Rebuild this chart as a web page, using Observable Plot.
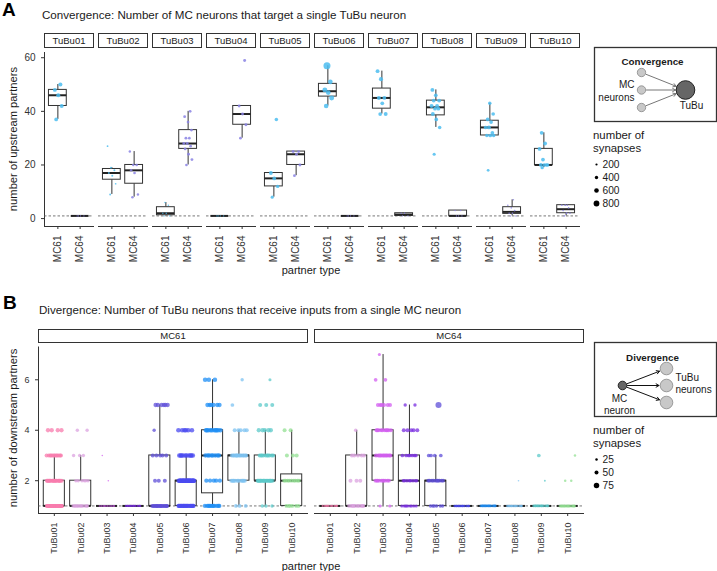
<!DOCTYPE html>
<html><head><meta charset="utf-8">
<script src="https://cdn.jsdelivr.net/npm/d3@7"></script>
<script src="https://cdn.jsdelivr.net/npm/@observablehq/plot@0.6"></script>
<style>
body{margin:0;background:#fff;font-family:"Liberation Sans",Arial,sans-serif;}
#fig{position:relative;width:717px;height:571px;overflow:hidden;background:#fff;}
.abs{position:absolute;white-space:nowrap;color:#1a1a1a;line-height:1;}
.rot{transform:translate(-50%,-50%) rotate(-90deg);}
.ctr{transform:translate(-50%,-50%);}
svg{position:absolute;overflow:visible;}
g[aria-label="x-axis line"], g[aria-label="y-axis line"]{stroke-width:1.3px;}
</style></head><body><div id="fig"></div>
<script>
// ---------------- data ----------------
const tubuTypes = ["TuBu01","TuBu02","TuBu03","TuBu04","TuBu05","TuBu06","TuBu07","TuBu08","TuBu09","TuBu10"];
const mcTypes = ["MC61","MC64"];

// Panel A: number of upstream MC partners of each TuBu neuron
const convMC61 = [[37,42,46,48,50],[9,13,16,17,18,19,27],[1,1,2,2,5,6],[1,1,1,1],[8,12,15,17,37],
  [42,45,47,48,51,57],[39,39,43,45,45,52,55],[24,34,37,39,41,41,42,42,44,44,46,48],
  [18,31,31,31,32,34,34,36,37,39,43],[19,20,20,20,20,22,26,28,32]];
const convMC64 = [[1,1,1,1],[8,9,17,18,20,20,25],[20,22,24,26,27,28,28,30,30,33,36,38,40],[30,35,39,42,59],[16,20,24,25,25],
  [1,1,1,1],[1,1,2,2],[1,1,1,3,3],[1,1,2,2,3,4,5,7],[1,2,2,3,4,5,5,5]];
// number of synapses for each of those points
const convSynMC61 = [[450,500,500,480,520],[150,120,160,140,160,150,130],[60,60,80,70,90,70],[30,30,30,30],[350,400,450,480,420],
  [600,650,620,650,600,1000],[450,480,460,500,470,520,480],[350,420,450,470,480,460,500,480,470,490,460,480],
  [300,430,450,420,440,460,430,450,470,440,420],[400,420,430,450,440,460,470,480,450]];
const convSynMC64 = [[40,40,40,40],[250,240,280,260,270,250,240],[280,300,320,300,280,310,300,290,320,300,280,300,290],[300,320,310,300,330],[300,320,310,330,300],
  [30,30,30,30],[60,60,60,60],[50,50,50,60,60],[80,80,100,100,120,110,100,90],[100,110,120,110,100,120,110,100]];
const convColors = ["#4cbdf0","#8a82e4"];
const convSizeBreaks = [200,400,600,800];

// Panel B: number of MC neurons (per TuBu type) having 1..7 downstream partners
const divCountsMC61 = [[36,18,12,4,0,0,0],[12,6,3,2,0,0,0],[15,1,1,0,0,0,0],[12,0,0,0,0,0,0],[16,3,5,1,6,0,0],
  [20,30,10,6,0,0,0],[11,5,8,10,6,3,0],[3,10,14,5,1,1,0],[3,17,10,5,3,1,0],[6,9,3,2,0,0,0]];
const divCountsMC64 = [[10,0,0,0,0,0,0],[10,3,5,1,0,0,0],[2,10,12,10,6,2,1],[9,8,7,5,2,0,0],[6,10,4,0,1,0,0],
  [12,0,0,0,0,0,0],[12,0,0,0,0,0,0],[12,1,0,0,0,0,0],[12,1,1,0,0,0,0],[12,2,1,0,0,0,0]];
// typical number of synapses at each partner count 1..7
const divSynMC61 = [[45,50,50,55,50,50,50],[40,40,40,40,40,40,40],[10,10,10,10,10,10,10],[20,20,20,20,20,20,20],[50,50,50,40,55,55,55],
  [55,60,60,60,60,60,60],[55,55,55,60,55,60,60],[45,50,50,50,45,40,40],[40,50,50,55,50,35,35],[45,45,50,50,50,50,50]];
const divSynMC64 = [[20,20,20,20,20,20,20],[45,50,50,40,40,40,40],[35,45,50,50,50,45,35],[35,40,45,50,40,40,40],[40,45,45,45,85,85,85],
  [25,25,25,25,25,25,25],[30,30,30,30,30,30,30],[25,10,10,10,10,10,10],[30,15,45,45,45,45,45],[35,25,25,25,25,25,25]];
const divColors = ["#f87cae","#dca3e0","#d35ff0","#7a2ee0","#5f4fd8","#4b4bf0","#1f8ff5","#7ec3f2","#5cc9c9","#93e093"];
const divSizeBreaks = [25,50,75];

// ---------------- helpers ----------------
const FONT = '"Liberation Sans", Arial, sans-serif';
const INK = "#333";
function jitter(i, w){ return (((i + 0.5) * 0.6180339887) % 1 - 0.5) * w; }
function stats(vals){
  const s = vals.slice().sort(d3.ascending);
  const q1 = d3.quantile(s,0.25), med = d3.quantile(s,0.5), q3 = d3.quantile(s,0.75), iqr = q3 - q1;
  return {q1, med, q3, lo: d3.min(s.filter(v => v >= q1 - 1.5*iqr)), hi: d3.max(s.filter(v => v <= q3 + 1.5*iqr))};
}
const fig = document.getElementById("fig");
function place(node, left, top){ node.style.left = left + "px"; node.style.top = top + "px"; fig.appendChild(node); }
function label(text, left, top, css, cls){
  const d = document.createElement("div"); d.className = "abs " + (cls||""); d.textContent = text;
  d.style.cssText += css || ""; d.style.left = left + "px"; d.style.top = top + "px"; fig.appendChild(d); return d;
}

// ---------------- Panel A ----------------
const convPts = [], convBox = [];
tubuTypes.forEach((t, ti) => {
  [convMC61, convMC64].forEach((arr, mi) => {
    const vals = arr[ti], syn = (mi ? convSynMC64 : convSynMC61)[ti];
    vals.forEach((v, i) => convPts.push({fx: t, mc: mcTypes[mi], x: mi + 1 + jitter(i, 0.4), v, syn: syn[i]}));
    convBox.push({fx: t, x: mi + 1, ...stats(vals)});
  });
});
const xDomA = [0.4, 2.6];
const halfBox = 0.4;
const stripA = Plot.plot({
  width: 585, height: 16, marginLeft: 42, marginRight: 4, marginTop: 1, marginBottom: 1,
  style: {fontFamily: FONT, background: "transparent", color: "#1a1a1a"},
  fx: {domain: tubuTypes, paddingInner: 0.1, paddingOuter: 0, axis: null},
  marks: [
    Plot.frame({fill: "white", stroke: INK, strokeWidth: 1}),
    Plot.text(tubuTypes, {fx: d => d, text: d => d, frameAnchor: "middle", fontSize: 9.5})
  ]
});
place(stripA, 0, 32);

const plotA = Plot.plot({
  width: 585, height: 219, marginLeft: 42, marginRight: 4, marginTop: 5, marginBottom: 40,
  style: {fontFamily: FONT, fontSize: "10px", background: "transparent", color: INK},
  fx: {domain: tubuTypes, paddingInner: 0.1, paddingOuter: 0, axis: null},
  x: {domain: xDomA, ticks: [1,2], tickFormat: i => mcTypes[i-1], tickRotate: -90, tickSize: 3, label: null, line: true},
  y: {domain: [-2.95, 61.95], ticks: [0,20,40,60], tickFormat: "d", tickSize: 3, label: null, line: true},
  r: {type: "linear", domain: [0, 1000], range: [0.5, 3.5]},
  color: {domain: mcTypes, range: convColors},
  marks: [
    Plot.ruleY([1], {stroke: "#555", strokeDasharray: "2.5,2", strokeWidth: 0.8}),
    Plot.ruleX(convBox, {fx: "fx", x: "x", y1: "lo", y2: "q1", stroke: INK, strokeWidth: 1}),
    Plot.ruleX(convBox, {fx: "fx", x: "x", y1: "q3", y2: "hi", stroke: INK, strokeWidth: 1}),
    Plot.rect(convBox, {fx: "fx", x1: d => d.x - halfBox, x2: d => d.x + halfBox, y1: "q1", y2: "q3", fill: "white", stroke: INK, strokeWidth: 1}),
    Plot.ruleY(convBox, {fx: "fx", x1: d => d.x - halfBox, x2: d => d.x + halfBox, y: "med", stroke: "#222", strokeWidth: 2}),
    Plot.dot(convPts, {fx: "fx", x: "x", y: "v", r: "syn", fill: "mc", fillOpacity: 0.85})
  ]
});
place(plotA, 0, 47);

label("A", 2, 0, "font-weight:bold;font-size:19px;color:#000;");
label("Convergence: Number of MC neurons that target a single TuBu neuron", 42, 9, "font-size:11.6px;");
label("number of upstream partners", 14, 139, "font-size:11.2px;", "rot");
label("partner type", 311, 270, "font-size:11px;", "ctr");

// ---------------- Panel B ----------------
const divPts = [], divBox = [];
mcTypes.forEach((m, mi) => {
  const counts = mi ? divCountsMC64 : divCountsMC61, syns = mi ? divSynMC64 : divSynMC61;
  tubuTypes.forEach((t, ti) => {
    const vals = []; let k = 0;
    counts[ti].forEach((c, vi) => {
      for (let j = 0; j < c; j++) {
        divPts.push({fx: m, tubu: t, x: ti + 1 + jitter(k++, 0.6), v: vi + 1, syn: syns[ti][vi]});
        vals.push(vi + 1);
      }
    });
    divBox.push({fx: m, x: ti + 1, ...stats(vals)});
  });
});
const xDomB = [0.4, 10.6];
const stripB = Plot.plot({
  width: 588, height: 16, marginLeft: 38, marginRight: 4, marginTop: 1, marginBottom: 2,
  style: {fontFamily: FONT, background: "transparent", color: "#1a1a1a"},
  fx: {domain: mcTypes, paddingInner: 0.0253, paddingOuter: 0, axis: null},
  marks: [
    Plot.frame({fill: "white", stroke: INK, strokeWidth: 1}),
    Plot.text(mcTypes, {fx: d => d, text: d => d, frameAnchor: "middle", fontSize: 9.5})
  ]
});
place(stripB, 0, 328);

const plotB = Plot.plot({
  width: 588, height: 221, marginLeft: 38, marginRight: 4, marginTop: 4.5, marginBottom: 50,
  style: {fontFamily: FONT, fontSize: "9px", background: "transparent", color: INK},
  fx: {domain: mcTypes, paddingInner: 0.0253, paddingOuter: 0, axis: null},
  x: {domain: xDomB, ticks: d3.range(1, 11), tickFormat: i => tubuTypes[i-1], tickRotate: -90, tickSize: 3, label: null, line: true},
  y: {domain: [0.7, 7.3], ticks: [2,4,6], tickFormat: "d", tickSize: 3, label: null, line: true},
  r: {type: "linear", domain: [0, 100], range: [0.5, 3.5]},
  color: {domain: tubuTypes, range: divColors},
  marks: [
    Plot.ruleY([1], {stroke: "#555", strokeDasharray: "2.5,2", strokeWidth: 0.8}),
    Plot.ruleX(divBox, {fx: "fx", x: "x", y1: "lo", y2: "q1", stroke: INK, strokeWidth: 1}),
    Plot.ruleX(divBox, {fx: "fx", x: "x", y1: "q3", y2: "hi", stroke: INK, strokeWidth: 1}),
    Plot.rect(divBox, {fx: "fx", x1: d => d.x - halfBox, x2: d => d.x + halfBox, y1: "q1", y2: "q3", fill: "white", stroke: INK, strokeWidth: 1}),
    Plot.ruleY(divBox, {fx: "fx", x1: d => d.x - halfBox, x2: d => d.x + halfBox, y: "med", stroke: "#222", strokeWidth: 2}),
    Plot.dot(divPts, {fx: "fx", x: "x", y: "v", r: "syn", fill: "tubu", fillOpacity: 0.75})
  ]
});
place(plotB, 0, 342);

label("B", 3, 292.5, "font-weight:bold;font-size:19px;color:#000;");
label("Divergence: Number of TuBu neurons that receive inputs from a single MC neuron", 39, 304, "font-size:11.6px;");
label("number of downstream partners", 14, 428, "font-size:11.2px;", "rot");
label("partner type", 311, 566, "font-size:11px;", "ctr");

// ---------------- legends ----------------
// Convergence schematic: three MC sources (column 0) -> one TuBu target (column 1)
const convSources = [0,1,2];
const convSchem = Plot.plot({
  width: 124, height: 76, marginLeft: 1, marginRight: 1, marginTop: 1, marginBottom: 1,
  style: {fontFamily: FONT, background: "transparent", color: "#1a1a1a"},
  x: {domain: [0,1], range: [48, 92], axis: null},
  y: {domain: [0,2], range: [26, 61], axis: null},
  marks: [
    Plot.frame({stroke: INK, strokeWidth: 1.3, fill: "white"}),
    Plot.arrow(convSources, {x1: () => 0, y1: d => d, x2: () => 1, y2: () => 1, insetStart: 5, insetEnd: 10, stroke: "#777", strokeWidth: 1, headLength: 5}),
    Plot.dot(convSources, {x: () => 0, y: d => d, r: 4.2, fill: "#c8c8c8", stroke: "#888", strokeWidth: 0.8}),
    Plot.dot([1], {x: () => 1, y: () => 1, r: 9.3, fill: "#666", stroke: "#222", strokeWidth: 1}),
    Plot.text(["Convergence"], {frameAnchor: "top", dx: -3, dy: 11, fontWeight: "bold", fontSize: 9.8}),
    Plot.text(["MC\nneurons"], {x: () => 0, y: () => 1, dx: -7, textAnchor: "end", fontSize: 10, lineHeight: 1.3}),
    Plot.text(["TuBu"], {x: () => 1, y: () => 1, dx: 6, dy: 16, fontSize: 10})
  ]
});
place(convSchem, 593, 46);

label("number of", 593, 130, "font-size:11.4px;");
label("synapses", 593, 143.3, "font-size:11.4px;");
const convSizeLeg = Plot.plot({
  width: 60, height: 50, marginLeft: 3, marginRight: 0, marginTop: 5, marginBottom: 5,
  style: {fontFamily: FONT, background: "transparent", color: "#1a1a1a"},
  y: {type: "point", domain: convSizeBreaks, padding: 0, axis: null},
  r: {type: "linear", domain: [0, 1000], range: [0.5, 3.5]},
  marks: [
    Plot.dot(convSizeBreaks, {y: d => d, r: d => d, frameAnchor: "left", fill: "black"}),
    Plot.text(convSizeBreaks, {y: d => d, text: d => String(d), frameAnchor: "left", dx: 6, textAnchor: "start", fontSize: 10.2})
  ]
});
place(convSizeLeg, 593, 158);

// Divergence schematic: one MC source (column 0) -> three TuBu targets (column 1)
const divTargets = [0,1,2];
const divSchem = Plot.plot({
  width: 124, height: 76, marginLeft: 1, marginRight: 1, marginTop: 1, marginBottom: 1,
  style: {fontFamily: FONT, background: "transparent", color: "#1a1a1a"},
  x: {domain: [0,1], range: [29, 73], axis: null},
  y: {domain: [0,2], range: [27, 61], axis: null},
  marks: [
    Plot.frame({stroke: INK, strokeWidth: 1.3, fill: "white"}),
    Plot.arrow(divTargets, {x1: () => 0, y1: () => 1, x2: () => 1, y2: d => d, insetStart: 5, insetEnd: 7.5, stroke: "#111", strokeWidth: 1, headLength: 5}),
    Plot.dot(divTargets, {x: () => 1, y: d => d, r: 6.3, fill: "#c8c8c8", stroke: "#888", strokeWidth: 0.8}),
    Plot.dot([0], {x: () => 0, y: () => 1, r: 4.3, fill: "#666", stroke: "#222", strokeWidth: 1}),
    Plot.text(["Divergence"], {frameAnchor: "top", dx: -3, dy: 12, fontWeight: "bold", fontSize: 9.8}),
    Plot.text(["TuBu\nneurons"], {x: () => 1, y: () => 1, dx: 9, dy: -2, textAnchor: "start", fontSize: 10, lineHeight: 1.2}),
    Plot.text(["MC\nneuron"], {x: () => 0, y: () => 2, dx: -3, dy: 2, fontSize: 10, lineHeight: 1.15})
  ]
});
place(divSchem, 593, 341);

label("number of", 593, 425, "font-size:11.4px;");
label("synapses", 593, 438.3, "font-size:11.4px;");
const divSizeLeg = Plot.plot({
  width: 60, height: 37, marginLeft: 3, marginRight: 0, marginTop: 5, marginBottom: 5,
  style: {fontFamily: FONT, background: "transparent", color: "#1a1a1a"},
  y: {type: "point", domain: divSizeBreaks, padding: 0, axis: null},
  r: {type: "linear", domain: [0, 100], range: [0.5, 3.5]},
  marks: [
    Plot.dot(divSizeBreaks, {y: d => d, r: d => d, frameAnchor: "left", fill: "black"}),
    Plot.text(divSizeBreaks, {y: d => d, text: d => String(d), frameAnchor: "left", dx: 6, textAnchor: "start", fontSize: 10.2})
  ]
});
place(divSizeLeg, 593, 453);
</script></body></html>
